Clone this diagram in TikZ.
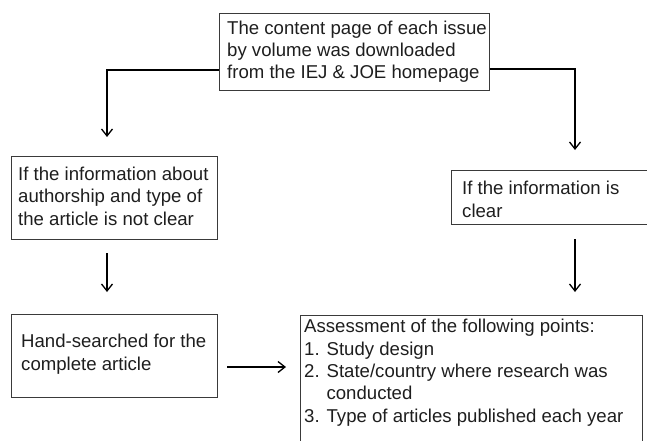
\documentclass[tikz,border=0pt]{standalone}
\usepackage{fontspec}
\setmainfont{Liberation Sans}
\usetikzlibrary{arrows.meta,calc}
\definecolor{boxline}{HTML}{3A3A3A}
\definecolor{txt}{HTML}{1E1E1E}
\tikzset{
  box/.style={draw=boxline, line width=1pt, anchor=north west, inner sep=0pt, rectangle},
  txtnode/.style={anchor=base west, inner sep=0pt, align=left, text=txt,
    font=\fontsize{18.6}{22.3}\selectfont},
  conn/.style={draw=black, line width=1.3pt, -{Straight Barb[length=7pt,width=11pt,line width=1.3pt]}}
}
\begin{document}
\begin{tikzpicture}[x=1pt,y=-1pt]
\clip (0,0) rectangle (647,441);
\useasboundingbox (0,0) rectangle (647,441);
% boxes
\node[box, minimum width=270pt, minimum height=77pt] (a) at (219,13) {};
\node[box, minimum width=206pt, minimum height=83pt] (b) at (11,156) {};
\node[box, minimum width=210pt, minimum height=54pt] (c) at (451,170) {};
\node[box, minimum width=206pt, minimum height=83pt] (d) at (11,314) {};
\node[box, minimum width=342pt, minimum height=140pt] (e) at (300,315) {};
% texts (anchored at the baseline of the last line)
\node[txtnode] (ta) at (227,79) {The content page of each issue\\by volume was downloaded\\from the IEJ \& JOE homepage};
\node[txtnode] (tb) at (18,225) {If the information about\\authorship and type of\\the article is not clear};
\node[txtnode] (tc) at (462,217) {If the information is\\clear};
\node[txtnode] (td) at (21,370) {Hand-searched for the\\complete article};
\node[txtnode] (te) at (304,422) {Assessment of the following points:\\1. Study design\\2. State/country where research was\\\phantom{2. }conducted\\3. Type of articles published each year};
% connector coordinates
\coordinate (a1) at ($(a.south west)+(0,-21)$);
\coordinate (a2) at ($(a.south east)+(0,-22)$);
\coordinate (bt) at ($(b.north west)+(96,-19)$);
\coordinate (ct) at ($(c.north west)+(124,-20)$);
\coordinate (bb) at ($(b.south west)+(96,13)$);
\coordinate (bd) at ($(d.north west)+(96,-22)$);
\coordinate (cb) at ($(c.south west)+(124,14)$);
\coordinate (ce) at ($(e.north west)+(275,-23)$);
\coordinate (ds) at ($(d.north east)+(9,53)$);
\coordinate (de) at ($(e.north west)+(-14,52)$);
% connectors
\draw[conn] (a1) -| (bt);
\draw[conn] (a2) -| (ct);
\draw[conn] (bb) -- (bd);
\draw[conn] (cb) -- (ce);
\draw[conn] (ds) -- (de);
\end{tikzpicture}
\end{document}
